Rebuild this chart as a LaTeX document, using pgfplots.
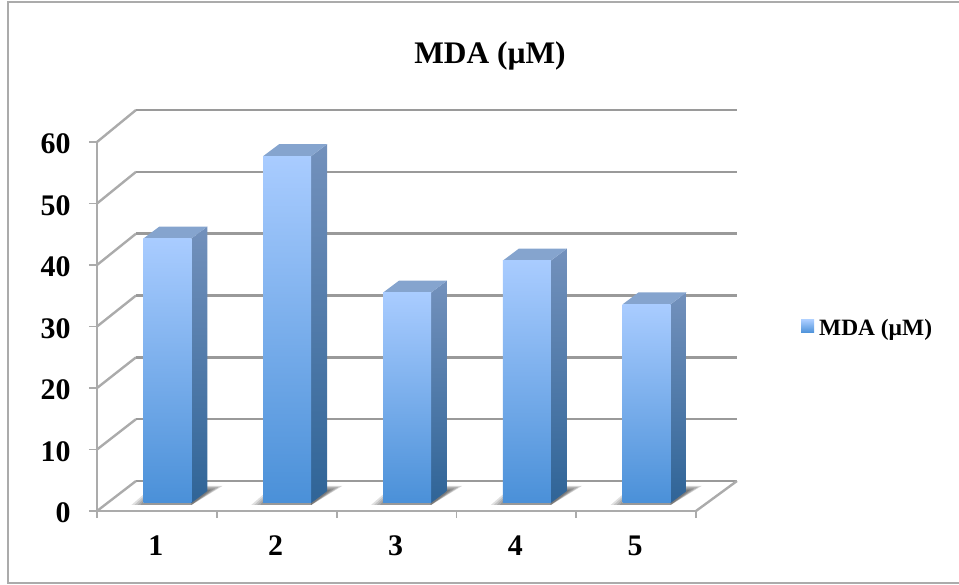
\documentclass[border=0pt]{standalone}
\usepackage{fontspec}
\setmainfont{Liberation Serif}
\usepackage{pgfplots}
\pgfplotsset{compat=1.18}

\definecolor{gridgray}{HTML}{9A9A9A}
\definecolor{axisgray}{HTML}{ABABAB}
\definecolor{frontlight}{HTML}{A9CCFF}
\definecolor{frontdark}{HTML}{4A90D8}
\definecolor{sidelight}{HTML}{7391BC}
\definecolor{sidedark}{HTML}{2F6497}
\definecolor{topface}{HTML}{85A4CE}

% data units per drawing unit (1bp) along each axis
\pgfmathsetmacro\dx{5/599}
\pgfmathsetmacro\dy{60/369}

% One column: soft floor shadow, then side, top and front faces.
\newcommand\column[2]{%
  \pgfmathsetmacro\xl{#1-13.5*\dx}%
  \pgfmathsetmacro\xr{#1+34.5*\dx}%
  \pgfmathsetmacro\xrb{#1+50.5*\dx}%
  \pgfmathsetmacro\xlb{#1+2.5*\dx}%
  \pgfmathsetmacro\yb{12*\dy}%
  \pgfmathsetmacro\yt{#2+12*\dy}%
  \foreach \s in {3,6,9,12}{%
    \pgfmathsetmacro\sa{\xr+(16+1.25*\s)*\dx}%
    \pgfmathsetmacro\sb{(12+0.42*\s)*\dy}%
    \pgfmathsetmacro\sc{\xl-\s*\dx}%
    \pgfmathsetmacro\sd{0.7*\s*\dy}%
    \pgfmathsetmacro\se{-2*\dy}%
    \addplot[fill=black, draw=none, fill opacity=0.17, yshift=8bp]
      coordinates {(\xr,\se) (\sa,\sb) (\xrb,\sb) (\xr,\yb)} --cycle;
    \addplot[fill=black, draw=none, fill opacity=0.12, yshift=8bp]
      coordinates {(\sc,\se) (\xr,\se) (\xr,0) (\xl,0) (\xl,\sd)} --cycle;
  }%
  \addplot[top color=sidelight, bottom color=sidedark, draw=none, yshift=8bp]
    coordinates {(\xr,0) (\xrb,\yb) (\xrb,\yt) (\xr,#2)} --cycle;
  \addplot[fill=topface, draw=none, yshift=8bp]
    coordinates {(\xl,#2) (\xr,#2) (\xrb,\yt) (\xlb,\yt)} --cycle;
  \addplot[ybar, bar width=48bp, bar shift=10.5bp, top color=frontlight,
    bottom color=frontdark, draw=none, yshift=8bp]
    coordinates {(#1,#2)};
}

% One level of the back wall and its diagonal on the side wall.
\newcommand\wall[1]{%
  \pgfmathsetmacro\xa{0.5+39*\dx}%
  \pgfmathsetmacro\xb{0.5+640*\dx}%
  \pgfmathsetmacro\yw{#1+(30+#1/30)*\dy}%
  \addplot[axisgray, line width=2.4bp] coordinates {(0.5,#1) (\xa,\yw)};
  \addplot[gridgray, line width=2.6bp] coordinates {(\xa,\yw) (\xb,\yw)};
}

\begin{document}
\begin{tikzpicture}
\begin{axis}[
  scale only axis, width=599bp, height=369bp,
  anchor=origin, at={(0,0)},
  xmin=0.5, xmax=5.5, ymin=0, ymax=60,
  clip=false,
  axis x line*=bottom, axis y line*=left,
  axis line style={axisgray, line width=2.4bp, -},
  xtick={1,2,3,4,5},
  minor xtick={0.5,1.5,2.5,3.5,4.5,5.5},
  ytick={0,10,20,30,40,50,60},
  major tick length=8bp,
  minor tick length=7bp,
  tick style={axisgray, line width=1.8bp},
  major x tick style={draw=none},
  xtick align=outside, ytick align=outside,
  /pgf/number format/assume math mode=true,
  ticklabel style={font=\fontsize{30}{30}\selectfont\bfseries, text=black},
  xticklabel style={yshift=-13bp, xshift=-1bp},
  yticklabel style={xshift=-15bp, yshift=-2bp},
]
  \wall{10}\wall{20}\wall{30}\wall{40}\wall{50}\wall{60}
  % floor plate
  \pgfmathsetmacro\xa{0.5+39*\dx}
  \pgfmathsetmacro\xb{0.5+640*\dx}
  \pgfmathsetmacro\yw{30*\dy}
  \addplot[gridgray, line width=2.6bp] coordinates {(\xa,\yw) (\xb,\yw)};
  \addplot[axisgray, line width=2.4bp] coordinates {(0.5,0) (\xa,\yw)};
  \addplot[axisgray, line width=2.4bp] coordinates {(5.5,0) (\xb,\yw)};
  \column{1}{43.0}
  \column{2}{56.4}
  \column{3}{34.2}
  \column{4}{39.4}
  \column{5}{32.3}
\end{axis}
\path[use as bounding box] (-97bp,-74bp) rectangle (862bp,511bp);
% outer chart frame, open on the right where it runs off the page
\draw[axisgray, line width=1.8bp] (862bp,509bp) -- (-89bp,509bp) -- (-89bp,-72bp) -- (862bp,-72bp);
\node[font=\fontsize{31.5}{31.5}\selectfont\bfseries] at (393bp,455bp) {MDA (µM)};
\shade[top color=frontlight, bottom color=frontdark] (704bp,178bp) rectangle (717bp,191bp);
\node[anchor=west, inner sep=0pt, font=\fontsize{23.5}{23.5}\selectfont\bfseries] at (722bp,181bp) {MDA (µM)};
\end{tikzpicture}
\end{document}
